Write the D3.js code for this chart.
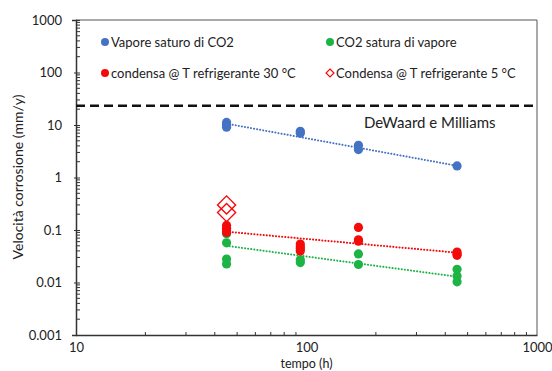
<!DOCTYPE html>
<html>
<head>
<meta charset="utf-8">
<script src="https://cdn.jsdelivr.net/npm/d3@7/dist/d3.min.js"></script>
<style>
  body { margin: 0; background: #fff; }
  svg text { font-family: Lato, "Open Sans", sans-serif; fill: #222; }
</style>
</head>
<body>
<svg id="chart" width="552" height="371"></svg>
<script>
// time points (h)
let times = [45, 94, 168, 450];

// corrosion rates (mm/y), one list per time point
let vaporeSaturo = [[11.2, 10.0, 9.1], [7.6, 7.0], [4.1, 3.4], [1.66]];
let co2Satura = [[0.085, 0.057, 0.028, 0.0225], [0.027, 0.024], [0.035, 0.022], [0.0178, 0.0133, 0.0103]];
let condensa30 = [[0.122, 0.108, 0.097, 0.09], [0.054, 0.048, 0.044, 0.04], [0.112, 0.065, 0.061], [0.038, 0.035, 0.033]];
let condensa5 = [[0.30, 0.215], [], [], []];

// trendline ends [value at first time, value at last time]
let trendBlue = [10.6, 1.67];
let trendRed = [0.093, 0.037];
let trendGreen = [0.050, 0.0129];

let deWaard = 23.3;

let yTicks = [0.001, 0.01, 0.1, 1, 10, 100, 1000];
let xTicks = [10, 100, 1000];

let svg = d3.select('#chart');
let plotLeft = 76, plotRight = 537, plotTop = 20, plotBottom = 335;

let xscale = d3.scaleLog().domain([10, 1000]).range([plotLeft, plotRight]);
let yscale = d3.scaleLog().domain([0.001, 1000]).range([plotBottom, plotTop]);

let blue = '#4472C4', green = '#1DB446', red = '#F50A0A';

// frame (top + right)
svg.append('path')
   .attr('d', `M${plotLeft},${plotTop}H${plotRight}V${plotBottom}`)
   .attr('fill', 'none')
   .attr('stroke', '#555')
   .attr('stroke-width', 1);

// minor ticks
let yMinor = [];
for (let e = -3; e < 3; e++) for (let m = 2; m <= 9; m++) yMinor.push(m * Math.pow(10, e));
let xMinor = [];
for (let e = 1; e < 3; e++) for (let m = 2; m <= 9; m++) xMinor.push(m * Math.pow(10, e));

svg.append('g').selectAll('line').data(yMinor).join('line')
   .attr('x1', plotLeft).attr('x2', plotLeft + 4)
   .attr('y1', d => yscale(d)).attr('y2', d => yscale(d))
   .attr('stroke', '#333');
svg.append('g').selectAll('line').data(xMinor).join('line')
   .attr('y1', plotBottom).attr('y2', plotBottom - 3)
   .attr('x1', d => xscale(d)).attr('x2', d => xscale(d))
   .attr('stroke', '#333');

// axes
let yaxis = d3.axisLeft(yscale).tickValues(yTicks).tickSize(4).tickFormat(d => String(d));
let xaxis = d3.axisBottom(xscale).tickValues(xTicks).tickSize(0).tickFormat(d => String(d));

let gy = svg.append('g').attr('transform', `translate(${plotLeft},0)`).call(yaxis);
gy.select('.domain').attr('stroke', '#333').attr('stroke-width', 1.5);
gy.selectAll('.tick line').attr('stroke', '#333').attr('x2', 4).attr('x1', -2);
gy.selectAll('.tick text').attr('x', -14).style('font-size', '13px').attr('fill', '#222');

let gx = svg.append('g').attr('transform', `translate(0,${plotBottom})`).call(xaxis);
gx.select('.domain').attr('stroke', '#333').attr('stroke-width', 1.5);
gx.selectAll('.tick text').attr('y', 8).style('font-size', '13px').attr('fill', '#222');

// axis titles
svg.append('text')
   .attr('x', xscale(100)).attr('y', 367.5)
   .attr('text-anchor', 'middle')
   .style('font-size', '12.5px')
   .text('tempo (h)');
svg.append('text')
   .attr('transform', 'translate(23,177) rotate(-90)')
   .attr('text-anchor', 'middle')
   .style('font-size', '14px')
   .text('Velocità corrosione (mm/y)');

// DeWaard e Milliams limit
svg.append('line')
   .attr('x1', plotLeft).attr('x2', plotRight)
   .attr('y1', yscale(deWaard)).attr('y2', yscale(deWaard))
   .attr('stroke', '#111')
   .attr('stroke-width', 2.5)
   .attr('stroke-dasharray', '9,5');
svg.append('text')
   .attr('x', 364).attr('y', 128)
   .style('font-size', '15px')
   .text('DeWaard e Milliams');

// trendlines
function trend(ends, colour) {
  let pts = [[times[0], ends[0]], [times[times.length - 1], ends[1]]];
  svg.append('path')
     .attr('d', d3.line().x(d => xscale(d[0])).y(d => yscale(d[1]))(pts))
     .attr('stroke', colour)
     .attr('stroke-width', 2)
     .attr('stroke-linecap', 'round')
     .attr('stroke-dasharray', '0.1,3')
     .attr('fill', 'none');
}
trend(trendBlue, blue);
trend(trendRed, red);
trend(trendGreen, green);

// flatten a series into {t, v}
function flat(series) {
  let out = [];
  series.forEach((vals, i) => vals.forEach(v => out.push({t: times[i], v: v})));
  return out;
}

function dots(series, colour) {
  svg.append('g').selectAll('circle').data(flat(series)).join('circle')
     .attr('cx', d => xscale(d.t))
     .attr('cy', d => yscale(d.v))
     .attr('r', 4.6)
     .attr('fill', colour);
}
dots(vaporeSaturo, blue);
dots(co2Satura, green);
dots(condensa30, red);

// open diamonds (symbolDiamond2 is already a rotated square)
let diamond = d3.symbol().type(d3.symbolDiamond2);
svg.append('g').selectAll('path').data(flat(condensa5)).join('path')
   .attr('transform', d => `translate(${xscale(d.t)},${yscale(d.v)})`)
   .attr('d', diamond.size(210)())
   .attr('fill', 'none')
   .attr('stroke', red)
   .attr('stroke-width', 1.4);

// legend
let legend = [
  {label: 'Vapore saturo di CO2', colour: blue, x: 105, y: 42, shape: 'dot'},
  {label: 'CO2 satura di vapore', colour: green, x: 330, y: 42, shape: 'dot'},
  {label: 'condensa @ T refrigerante 30 °C', colour: red, x: 105, y: 73, shape: 'dot'},
  {label: 'Condensa @ T refrigerante 5 °C', colour: red, x: 330, y: 73, shape: 'diamond'}
];
let lg = svg.append('g').selectAll('g').data(legend).join('g')
            .attr('transform', d => `translate(${d.x},${d.y})`);
lg.filter(d => d.shape == 'dot').append('circle')
  .attr('r', 4).attr('fill', d => d.colour);
lg.filter(d => d.shape == 'diamond').append('path')
  .attr('d', diamond.size(40)())
  .attr('fill', 'none')
  .attr('stroke', d => d.colour)
  .attr('stroke-width', 1.2);
lg.append('text')
  .attr('x', 6).attr('dy', '0.35em')
  .style('font-size', '13px')
  .text(d => d.label);
</script>
</body>
</html>
